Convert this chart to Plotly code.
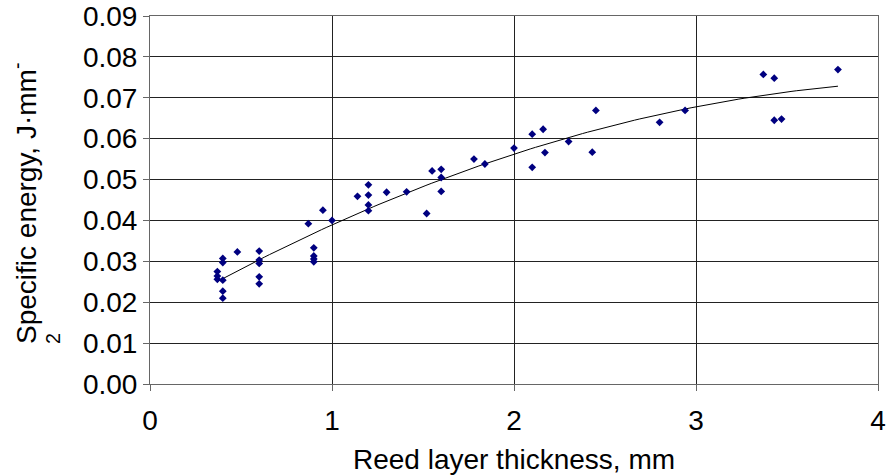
import numpy as np
import plotly.graph_objects as go

thickness_mm = [0.40, 0.40, 0.40, 0.37, 0.37, 0.37, 0.40, 0.40, 0.48, 0.60,
                0.60, 0.60, 0.60, 0.60, 0.87, 0.95, 1.00, 0.90, 0.90, 0.90,
                0.90, 1.14, 1.20, 1.20, 1.20, 1.20, 1.30, 1.41, 1.52, 1.55,
                1.60, 1.60, 1.60, 1.78, 1.84, 2.00, 2.10, 2.10, 2.16, 2.17,
                2.30, 2.43, 2.45, 2.80, 2.94, 3.37, 3.43, 3.43, 3.47, 3.78]
specific_energy = [0.0210, 0.0227, 0.0254, 0.0256, 0.0264, 0.0275, 0.0297, 0.0307, 0.0323, 0.0325,
                   0.0303, 0.0295, 0.0262, 0.0245, 0.0392, 0.0425, 0.0400, 0.0333, 0.0313, 0.0306,
                   0.0299, 0.0459, 0.0487, 0.0462, 0.0438, 0.0424, 0.0469, 0.0470, 0.0417, 0.0521,
                   0.0525, 0.0505, 0.0471, 0.0550, 0.0538, 0.0577, 0.0611, 0.0530, 0.0623, 0.0566,
                   0.0593, 0.0567, 0.0669, 0.0640, 0.0669, 0.0757, 0.0748, 0.0645, 0.0648, 0.0769]

x_ticks = [0, 1, 2, 3, 4]
y_ticks = [0.00, 0.01, 0.02, 0.03, 0.04, 0.05, 0.06, 0.07, 0.08, 0.09]

# 2nd-order polynomial trendline fitted to the data
coef = np.polyfit(thickness_mm, specific_energy, 2)
xt = np.linspace(min(thickness_mm), max(thickness_mm), 120)
yt = np.polyval(coef, xt)

FONT = "Liberation Sans, Arial, sans-serif"

fig = go.Figure()
fig.add_trace(go.Scatter(x=xt, y=yt, mode="lines",
                         line=dict(color="#000000", width=1), hoverinfo="skip",
                         showlegend=False))
fig.add_trace(go.Scatter(x=thickness_mm, y=specific_energy, mode="markers",
                         marker=dict(symbol="diamond", size=6, color="#000080",
                                     line=dict(width=0)),
                         showlegend=False))

fig.update_layout(
    width=888, height=476,
    margin=dict(l=150, r=10, t=16, b=92),
    paper_bgcolor="white", plot_bgcolor="white",
    font=dict(family=FONT, size=28, color="#000000"),
    xaxis=dict(range=[0, 4], tickvals=x_ticks, ticktext=[str(v) for v in x_ticks],
               showgrid=True, gridcolor="#222222", gridwidth=1,
               showline=True, linecolor="#666666", linewidth=1, mirror=True,
               ticks="outside", ticklen=6, tickcolor="#666666",
               zeroline=False, ticklabelstandoff=5, automargin=False,
               title=dict(text="Reed layer thickness, mm", standoff=14,
                          font=dict(size=28))),
    yaxis=dict(range=[0, 0.09], tickvals=y_ticks,
               ticktext=[f"{v:.2f}" for v in y_ticks],
               showgrid=True, gridcolor="#222222", gridwidth=1,
               showline=True, linecolor="#666666", linewidth=1, mirror=True,
               ticks="outside", ticklen=6, tickcolor="#666666",
               zeroline=False, automargin=False),
)

fig.add_annotation(
    text="Specific energy, J·mm<sup>-</sup><br><sup>2</sup>",
    xref="paper", yref="paper", x=0, y=0.5,
    xanchor="left", yanchor="middle", xshift=-146, yshift=-4,
    textangle=-90, align="left", showarrow=False,
    font=dict(family=FONT, size=28, color="#000000"),
)

fig.write_html("out.html")
